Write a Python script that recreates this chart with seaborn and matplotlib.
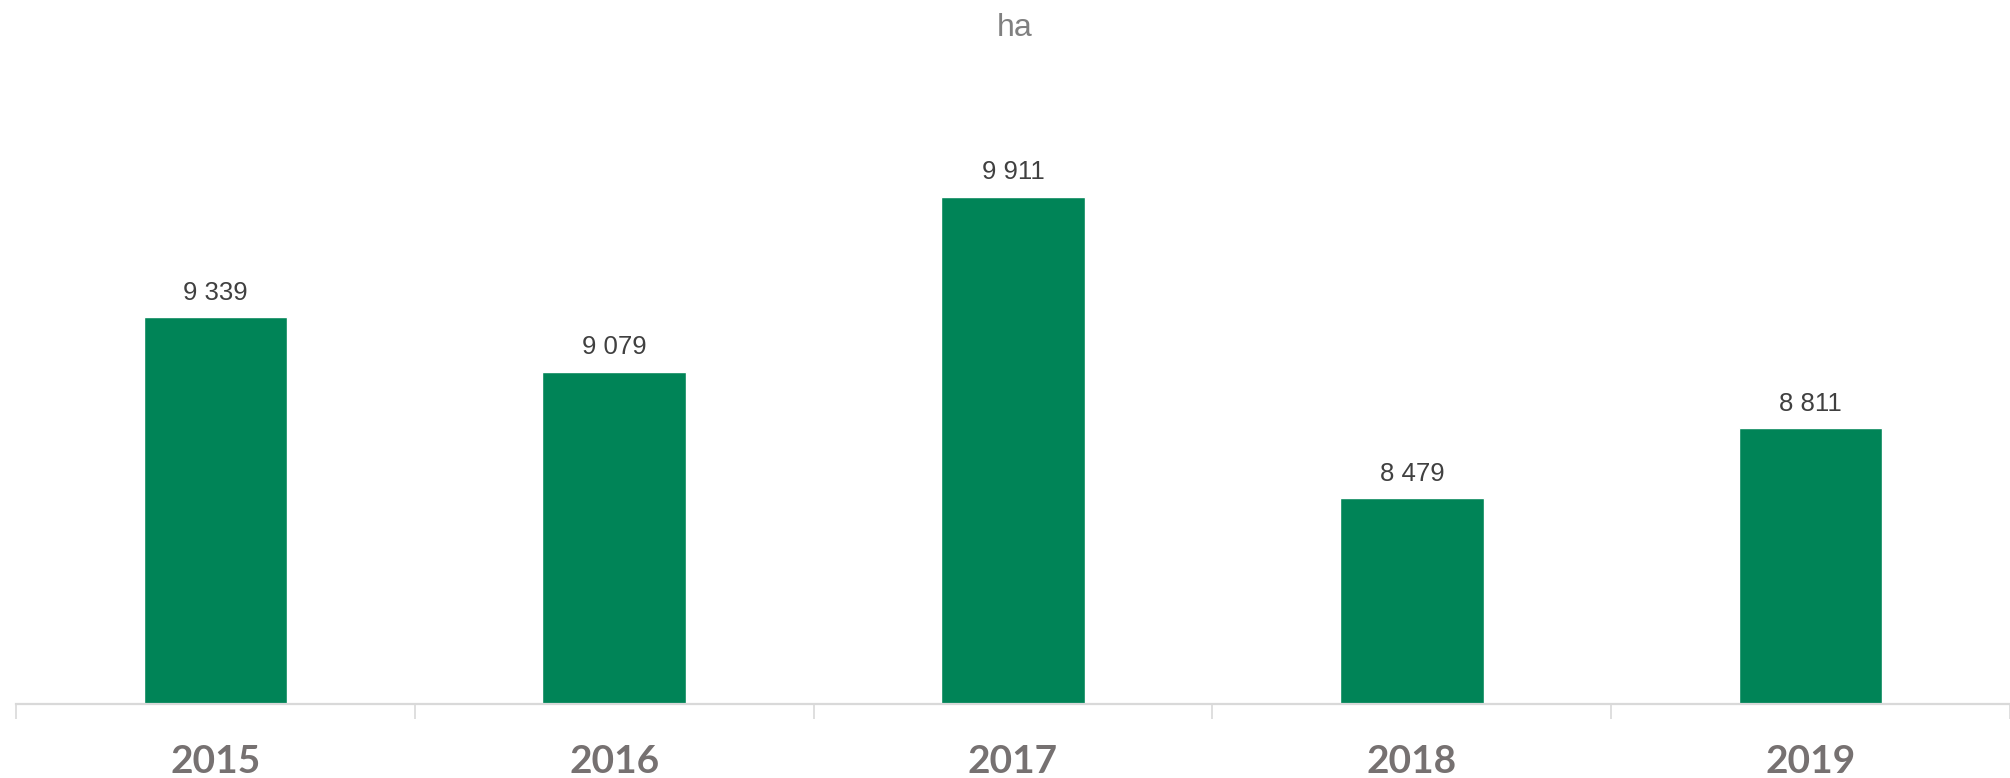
import matplotlib
matplotlib.use("Agg")
import matplotlib.pyplot as plt
import seaborn as sns
import pandas as pd

# data (ha)
years = ["2015", "2016", "2017", "2018", "2019"]
values = [9339, 9079, 9911, 8479, 8811]

df = pd.DataFrame({"Year": years, "Area": values})

sns.set_theme(style="white")
plt.rcParams['font.family'] = ['Liberation Sans', 'DejaVu Sans']

fig = plt.figure(figsize=(20.1, 7.78), dpi=100)
ax = fig.add_axes([0.008, 0.0951, 0.992, 0.811])

sns.barplot(data=df, x="Year", y="Area", color="#008457", saturation=1,
            width=0.36, ax=ax)

ax.set_ylim(7500, 10500)
ax.set_xlim(-0.5, 4.5)
ax.set_xlabel("")
ax.set_ylabel("")
ax.set_yticks([])

for s in ["top", "right", "left"]:
    ax.spines[s].set_visible(False)
ax.spines["bottom"].set_color("#d9d9d9")
ax.spines["bottom"].set_linewidth(1.6)

# category separators as minor ticks
ax.set_xticks([i - 0.5 for i in range(len(years) + 1)], minor=True)
ax.tick_params(axis="x", which="minor", bottom=True, length=11, width=1.2,
               color="#d9d9d9")
ax.tick_params(axis="x", which="major", bottom=False, length=0, pad=29)
for lbl in ax.get_xticklabels():
    lbl.set_fontfamily(["Lato", "DejaVu Sans"])
    lbl.set_fontweight("bold")
    lbl.set_fontsize(28)
    lbl.set_color("#767171")

labels = [f"{v:,}".replace(",", " ") for v in values]
ax.bar_label(ax.containers[0], labels=labels, padding=9, fontsize=18.5,
             color="#404040")

fig.text(0.505, 1 - 28 / 778, "ha", ha="center", va="center",
         fontsize=23, color="#808080")

fig.savefig("out.png", dpi=100)
